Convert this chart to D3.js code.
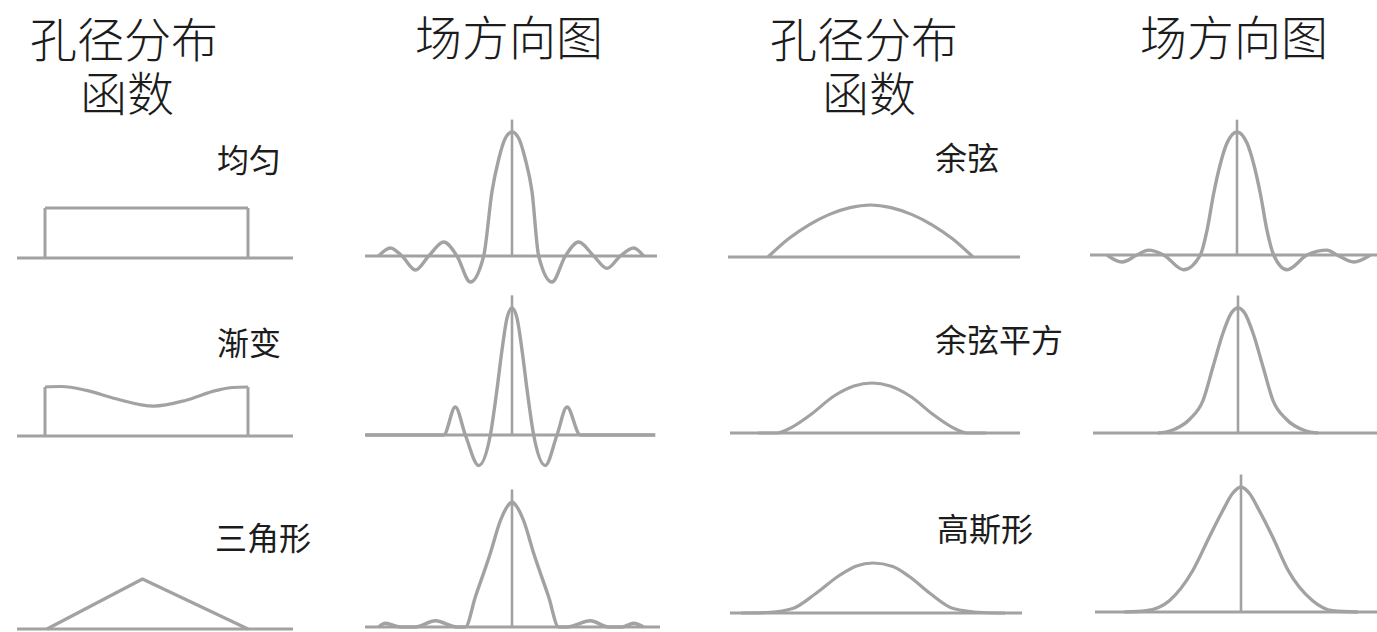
<!DOCTYPE html>
<html>
<head>
  <meta charset="utf-8" />
  <title>孔径分布函数与场方向图</title>
  <script src="https://cdn.jsdelivr.net/npm/d3@7/dist/d3.min.js"></script>
  <style>
    body { margin: 0; background: #fff; }
    text { font-family: "Noto Sans CJK SC", sans-serif; fill: #1c1c1c; }
    text.head { font-family: "Liberation Sans", "Noto Sans CJK SC", sans-serif; font-size: 47px; font-weight: 300; }
  </style>
</head>
<body>
  <svg id="chart" width="1377" height="632"></svg>
  <script>
    // headers and labels
    const headerAperture = ['孔径分布', '函数']
    const headerPattern = '场方向图'
    const apertureNames = ['均匀', '渐变', '三角形', '余弦', '余弦平方', '高斯形']

    // aperture distributions: [position (-1..1), relative amplitude]
    const uniformAperture = [[-1, 1], [1, 1]]
    const taperAperture = [[-1, 1], [-0.84, 1.01], [-0.59, 0.93], [-0.3, 0.76], [0.07, 0.61], [0.39, 0.73], [0.69, 0.93], [0.85, 0.99], [1, 1]]
    const triangleAperture = [[-1, 0], [-0.05, 1], [1, 0]]
    const cosineAperture = [[-1, 0], [-0.8, 0.35], [-0.6, 0.62], [-0.4, 0.82], [-0.2, 0.95], [0, 1], [0.2, 0.95], [0.4, 0.82], [0.6, 0.62], [0.8, 0.35], [1, 0]]
    const cosSqAperture = [[-1.2, 0], [-1, 0], [-0.89, 0.07], [-0.65, 0.36], [-0.4, 0.74], [-0.19, 0.94], [0, 1], [0.19, 0.94], [0.4, 0.74], [0.65, 0.36], [0.89, 0.07], [1, 0], [1.2, 0]]
    const gaussAperture = [[-1.2, 0], [-0.97, 0.01], [-0.73, 0.09], [-0.52, 0.39], [-0.3, 0.76], [-0.15, 0.94], [0, 1], [0.18, 0.93], [0.33, 0.73], [0.52, 0.39], [0.73, 0.09], [1, 0.01], [1.2, 0]]

    // field patterns: [angle (deg), relative field]
    const uniformPattern = [[-80, 0], [-73, 0.065], [-66, 0], [-58, -0.113], [-50, 0], [-41, 0.113], [-33, 0], [-25, -0.21], [-17, 0], [-12, 0.52], [-8, 0.78], [-4, 0.95], [0, 1], [4, 0.95], [8, 0.78], [12, 0.52], [16, 0], [24, -0.21], [32, 0], [40, 0.113], [49, 0], [57, -0.1], [65, 0], [73, 0.065], [79, 0]]
    const taperPattern = [[-88, 0], [-41, 0], [-34, 0.22], [-28, 0], [-20, -0.24], [-13, 0], [-9, 0.36], [-6, 0.67], [-3, 0.92], [0, 1], [3, 0.92], [6, 0.67], [9, 0.36], [13, 0], [20, -0.24], [27, 0], [33, 0.22], [41, 0], [86, 0]]
    const trianglePattern = [[-80, 0], [-76, 0.03], [-67, 0], [-58, 0], [-46, 0.05], [-33, 0], [-28, 0], [-22, 0.24], [-13, 0.59], [-7, 0.85], [-2.5, 0.97], [0, 1], [2.5, 0.97], [7, 0.85], [13, 0.59], [22, 0.24], [28, 0], [33, 0], [47, 0.05], [58, 0], [66, 0], [73, 0.03], [79, 0]]
    const cosinePattern = [[-78, 0], [-69, -0.057], [-60, 0], [-53, 0.04], [-44, 0], [-32, -0.12], [-22, 0], [-18, 0.2], [-14, 0.5], [-10, 0.74], [-6, 0.91], [0, 1], [6, 0.91], [10, 0.74], [14, 0.5], [18, 0.2], [22, 0], [30, -0.12], [42, 0], [54, 0.04], [60, 0], [70, -0.057], [80, 0]]
    const cosSqPattern = [[-48, 0], [-40, 0.02], [-29, 0.11], [-21, 0.26], [-15, 0.53], [-9, 0.8], [-4, 0.96], [0, 1], [4, 0.96], [9, 0.8], [15, 0.53], [21, 0.26], [29, 0.11], [40, 0.02], [48, 0]]
    const gaussPattern = [[-70, 0], [-57, 0.01], [-43, 0.09], [-29, 0.33], [-19, 0.6], [-11, 0.81], [-5, 0.95], [0, 1], [5, 0.95], [11, 0.81], [19, 0.6], [28, 0.34], [43, 0.09], [55, 0.01], [70, 0]]

    const svg = d3.select('#chart')
    const stroke = '#a2a2a2'

    // layout: where each small plot sits on the page
    const apertures = [
      { data: uniformAperture, curve: d3.curveLinear, left: 45, right: 248, base: 258, top: 208, axis: [17, 293], edges: true },
      { data: taperAperture, curve: d3.curveMonotoneX, left: 45, right: 248, base: 436, top: 387, axis: [17, 293], edges: true },
      { data: triangleAperture, curve: d3.curveLinear, left: 47, right: 248, base: 629, top: 579, axis: [17, 293] },
      { data: cosineAperture, curve: d3.curveMonotoneX, left: 768, right: 973, base: 257, top: 205, axis: [728, 1020] },
      { data: cosSqAperture, curve: d3.curveMonotoneX, left: 777, right: 967, base: 433, top: 383, axis: [730, 1020] },
      { data: gaussAperture, curve: d3.curveMonotoneX, left: 763, right: 983, base: 613, top: 563, axis: [730, 1022] }
    ]
    const patterns = [
      { data: uniformPattern, cx: 512, base: 256, top: 132, axis: [365, 657] },
      { data: taperPattern, cx: 512, base: 435, top: 308, axis: [365, 655] },
      { data: trianglePattern, cx: 512, base: 627, top: 502, axis: [365, 660] },
      { data: cosinePattern, cx: 1237, base: 255, top: 132, axis: [1090, 1377] },
      { data: cosSqPattern, cx: 1238, base: 433, top: 308, axis: [1093, 1377] },
      { data: gaussPattern, cx: 1241, base: 612, top: 487, axis: [1095, 1377] }
    ]
    const labelPos = [[217, 172], [217, 355], [215, 550], [935, 170], [935, 352], [937, 541]]

    function drawBase(g, axis, base) {
      g.append('line')
        .attr('x1', axis[0]).attr('x2', axis[1])
        .attr('y1', base).attr('y2', base)
        .style('stroke', stroke).style('stroke-width', 3)
    }

    apertures.forEach(function(p) {
      let xScale = d3.scaleLinear().domain([-1, 1]).range([p.left, p.right])
      let yScale = d3.scaleLinear().domain([0, 1]).range([p.base, p.top])
      let g = svg.append('g').attr('class', 'aperture')
      drawBase(g, p.axis, p.base)

      let pts = p.data
      if (p.edges) {
        // vertical sides of a hard-edged aperture
        [pts[0], pts[pts.length - 1]].forEach(function(d) {
          g.append('line')
            .attr('x1', xScale(d[0])).attr('x2', xScale(d[0]))
            .attr('y1', yScale(0)).attr('y2', yScale(d[1]))
            .style('stroke', stroke).style('stroke-width', 3)
        })
      }
      let line = d3.line()
        .curve(p.curve)
        .x(function(d) { return xScale(d[0]) })
        .y(function(d) { return yScale(d[1]) })
      g.append('path')
        .attr('d', line(pts))
        .style('fill', 'none')
        .style('stroke', stroke)
        .style('stroke-width', 3.2)
        .style('stroke-linejoin', 'round')
    })

    patterns.forEach(function(p) {
      let xScale = d3.scaleLinear().domain([-90, 90]).range([p.cx - 150, p.cx + 150])
      let yScale = d3.scaleLinear().domain([0, 1]).range([p.base, p.top])
      let g = svg.append('g').attr('class', 'pattern')
      drawBase(g, p.axis, p.base)

      // boresight line
      g.append('line')
        .attr('x1', xScale(0)).attr('x2', xScale(0))
        .attr('y1', yScale(0)).attr('y2', yScale(1.1))
        .style('stroke', stroke).style('stroke-width', 2.6)

      let line = d3.line()
        .curve(d3.curveMonotoneX)
        .x(function(d) { return xScale(d[0]) })
        .y(function(d) { return yScale(d[1]) })
      g.append('path')
        .attr('d', line(p.data))
        .style('fill', 'none')
        .style('stroke', stroke)
        .style('stroke-width', 3.4)
    })

    // column headers
    ;[[30, 80], [770, 822]].forEach(function(c) {
      svg.append('text').attr('class', 'head').attr('x', c[0]).attr('y', 57).text(headerAperture[0])
      svg.append('text').attr('class', 'head').attr('x', c[1]).attr('y', 111).text(headerAperture[1])
    })
    ;[415, 1140].forEach(function(x) {
      svg.append('text').attr('class', 'head').attr('x', x).attr('y', 55).text(headerPattern)
    })

    svg.selectAll('text.name')
      .data(apertureNames)
      .enter()
      .append('text')
      .attr('class', 'name')
      .attr('x', function(d, i) { return labelPos[i][0] })
      .attr('y', function(d, i) { return labelPos[i][1] })
      .style('font-size', '32px')
      .text(function(d) { return d })
  </script>
</body>
</html>
